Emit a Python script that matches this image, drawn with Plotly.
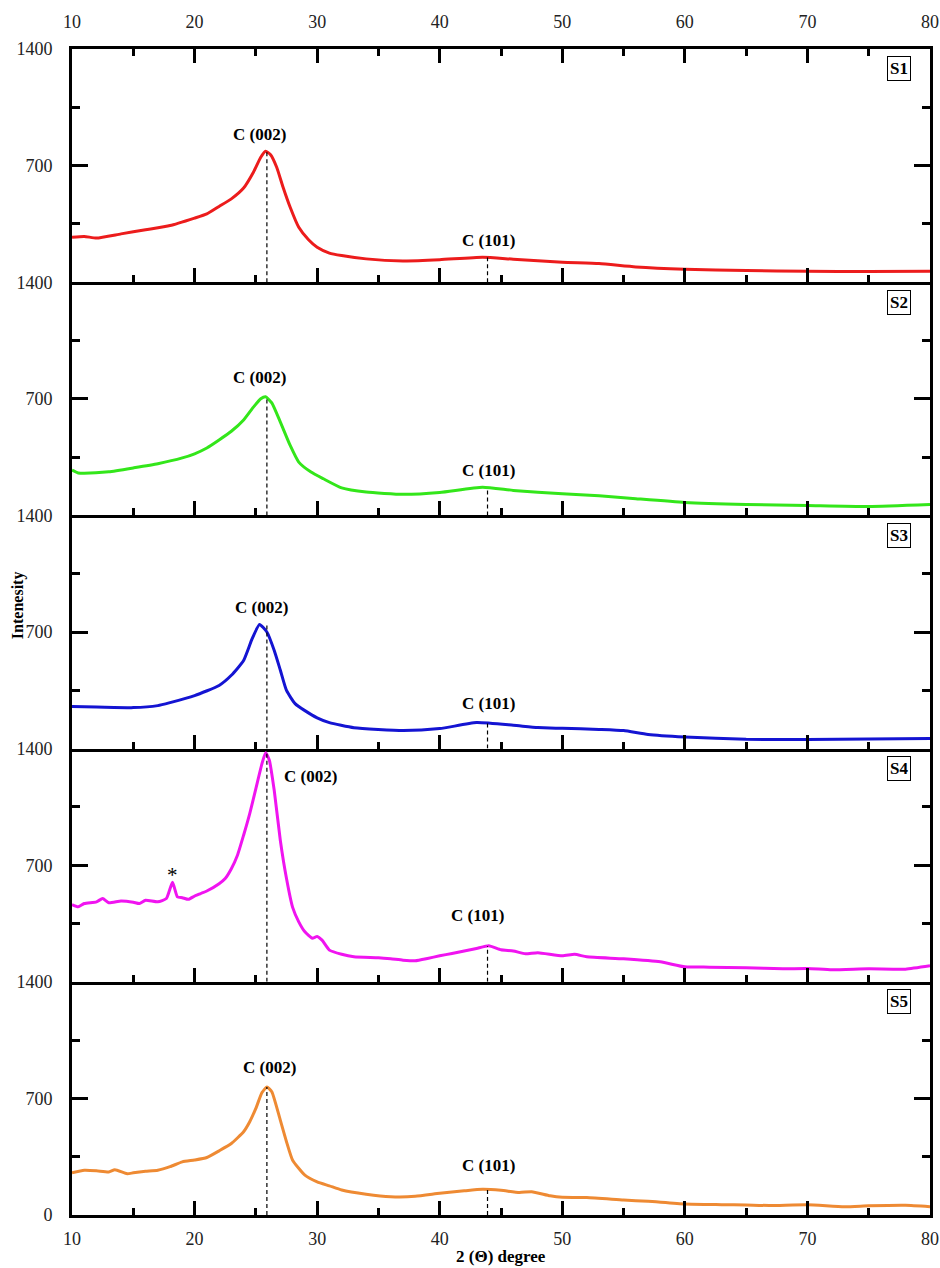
import numpy as np
import plotly.graph_objects as go
from plotly.subplots import make_subplots

# ---------------- data ----------------
samples = ["S1", "S2", "S3", "S4", "S5"]
colors = ["#ec1c1c", "#33e61a", "#1414d2", "#f014f0", "#ee8a33"]

angle_s1 = [10, 11, 12, 14, 16, 18, 20, 21, 22, 23, 24, 24.8, 25.4, 25.8, 26.2, 26.7, 27.2, 27.8,
            28.5, 29.3, 30, 31, 32, 34, 37, 40, 43.5, 46, 50, 53, 56, 60, 65, 70, 75, 80]
int_s1 = [270, 275, 265, 290, 315, 340, 385, 410, 455, 500, 565, 660, 750, 786, 765, 690, 575, 450,
          330, 255, 210, 175, 160, 140, 128, 135, 150, 138, 120, 112, 92, 78, 70, 66, 64, 66]

angle_s2 = [10, 10.5, 11, 13, 15, 17, 19, 20, 21, 22, 23, 24, 24.8, 25.4, 25.8, 26.3, 27, 27.8,
            28.5, 29.5, 30.5, 32, 34, 37, 40, 43.5, 46, 50, 53, 56, 60, 65, 70, 75, 80]
int_s2 = [272, 255, 253, 262, 285, 310, 345, 370, 405, 453, 505, 573, 650, 700, 712, 675, 560, 420,
          320, 260, 220, 165, 140, 127, 138, 169, 150, 130, 118, 100, 78, 66, 60, 54, 66]

angle_s3 = [10, 12, 15, 17, 18, 20, 22, 23, 24, 24.7, 25.3, 25.9, 26.5, 27, 27.5, 28.2, 29, 30,
            31, 33, 37, 40, 43, 46, 48, 50, 53, 55, 57, 60, 65, 70, 75, 80]
int_s3 = [252, 250, 246, 258, 276, 318, 379, 440, 529, 660, 745, 700, 589, 470, 349, 270, 228, 185,
          156, 125, 108, 120, 156, 140, 126, 122, 115, 108, 85, 70, 56, 54, 58, 60]

angle_s4 = [10, 10.5, 11, 12, 12.5, 13, 14, 15, 15.5, 16, 17, 17.7, 18.2, 18.6, 19, 19.5, 20, 20.5,
            21, 22, 22.5, 23, 23.5, 24, 24.5, 25, 25.5, 25.8, 26.1, 26.5, 27, 27.5, 28, 28.5, 29,
            29.6, 30, 30.4, 31, 32, 33, 35, 36, 37, 38, 39, 40, 41, 42, 43, 44, 45, 46, 47, 48,
            50, 51, 52, 55, 58, 60, 62, 65, 68, 70, 72, 75, 78, 80]
int_s4 = [463, 450, 470, 480, 500, 475, 485, 478, 470, 490, 480, 500, 597, 510, 505, 495, 515, 530,
          545, 589, 620, 679, 760, 880, 1010, 1160, 1310, 1375, 1330, 1148, 847, 620, 447, 360, 300,
          262, 272, 250, 190, 165, 150, 144, 138, 130, 126, 140, 156, 170, 185, 200, 216, 192, 185,
          168, 175, 156, 165, 150, 138, 120, 90, 88, 84, 78, 80, 72, 78, 76, 96]

angle_s5 = [10, 11, 12, 13, 13.5, 14.5, 15, 16, 17, 18, 19, 20, 21, 22, 23, 24, 24.5, 25, 25.5,
            25.9, 26.3, 27, 27.5, 28, 29, 30, 31, 32, 34, 36, 38, 40, 42, 43.5, 45, 46.5, 47.5,
            49, 50, 52, 55, 57, 60, 63, 65, 67, 70, 73, 75, 78, 80]
int_s5 = [253, 268, 265, 258, 272, 248, 253, 262, 269, 290, 319, 330, 345, 385, 429, 500, 560, 640,
          735, 768, 740, 568, 440, 329, 239, 199, 175, 150, 125, 110, 112, 130, 145, 154, 148, 135,
          140, 115, 106, 105, 90, 82, 66, 62, 60, 57, 62, 50, 55, 58, 50]

angles = [angle_s1, angle_s2, angle_s3, angle_s4, angle_s5]
intensities = [int_s1, int_s2, int_s3, int_s4, int_s5]

peak_002 = 25.9
peak_101 = 43.9
# label positions (x, y) per panel
lab002_x = [25.3, 25.3, 25.5, 27.1, 26.1]
lab002_y = [886, 827, 847, 1232, 886]
lab002_anchor = ["center", "center", "center", "left", "center"]
lab101_x = [44.0, 44.0, 44.0, 43.1, 44.0]
lab101_y = [253, 267, 270, 397, 299]

x_ticks = [10, 20, 30, 40, 50, 60, 70, 80]
x_minor = [15, 25, 35, 45, 55, 65, 75]
y_ticks = [0, 700, 1400]
y_minor = [350, 1050]

FONT = "Liberation Serif"

fig = make_subplots(rows=5, cols=1, shared_xaxes=True, vertical_spacing=0)

for i in range(5):
    fig.add_trace(go.Scatter(x=angles[i], y=intensities[i], mode="lines",
                             line=dict(color=colors[i], width=3, shape="spline", smoothing=0.5),
                             showlegend=False, hoverinfo="skip"), row=i + 1, col=1)

annotations = []
shapes = []
for i in range(5):
    r = i + 1
    xr = "x" if r == 1 else f"x{r}"
    yr = "y" if r == 1 else f"y{r}"
    ytext = ["0" if r == 5 else "", "700", "1400"]
    fig.update_yaxes(row=r, col=1, range=[0, 1400], tickmode="array", tickvals=y_ticks, ticktext=ytext,
                     ticks="inside", ticklen=16, tickwidth=3, tickcolor="black",
                     showline=True, linewidth=3, linecolor="black", mirror="ticks",
                     showgrid=False, zeroline=False, ticklabelstandoff=13, automargin=False,
                     tickfont=dict(family=FONT, size=18, color="#222"),
                     minor=dict(tickmode="array", tickvals=y_minor, ticks="inside", ticklen=8,
                                tickwidth=3, tickcolor="black", showgrid=False))
    xkw = dict(range=[10, 80], tickmode="array", tickvals=x_ticks,
               ticks="inside", ticklen=14, tickwidth=3, tickcolor="black",
               showline=True, linewidth=3, linecolor="black",
               showgrid=False, zeroline=False, automargin=False,
               tickfont=dict(family=FONT, size=18, color="#222"),
               minor=dict(tickmode="array", tickvals=x_minor, ticks="inside", ticklen=7,
                          tickwidth=3, tickcolor="black", showgrid=False))
    if r == 1:
        xkw.update(side="top", mirror="ticks", showticklabels=True, ticklabelstandoff=11)
    elif r == 5:
        xkw.update(showticklabels=True, mirror=False, ticklabelstandoff=5)
    else:
        xkw.update(showticklabels=False, mirror=False)
    fig.update_xaxes(row=r, col=1, **xkw)

    xs = np.array(angles[i], dtype=float)
    ys = np.array(intensities[i], dtype=float)
    top002 = ys.max()
    top101 = float(np.interp(peak_101, xs, ys))
    shapes.append(dict(type="line", xref=xr, yref=yr, x0=peak_002, x1=peak_002, y0=0, y1=top002,
                       line=dict(color="black", width=1.2, dash="4px,3px")))
    shapes.append(dict(type="line", xref=xr, yref=yr, x0=peak_101, x1=peak_101, y0=0, y1=top101,
                       line=dict(color="black", width=1.2, dash="4px,3px")))

    annotations.append(dict(x=lab002_x[i], y=lab002_y[i], xref=xr, yref=yr, text="<b>C (002)</b>",
                            showarrow=False, xanchor=lab002_anchor[i], yanchor="middle",
                            font=dict(family=FONT, size=17, color="black")))
    annotations.append(dict(x=lab101_x[i], y=lab101_y[i], xref=xr, yref=yr, text="<b>C (101)</b>",
                            showarrow=False, xanchor="center", yanchor="middle",
                            font=dict(family=FONT, size=17, color="black")))
    annotations.append(dict(x=0.964, y=1280, xref="paper", yref=yr, text=f"<b>{samples[i]}</b>",
                            showarrow=False, xanchor="center", yanchor="middle",
                            bordercolor="black", borderwidth=1, borderpad=2, bgcolor="white",
                            font=dict(family=FONT, size=17, color="black")))

annotations.append(dict(x=18.2, y=640, xref="x4", yref="y4", text="*", showarrow=False,
                        font=dict(family=FONT, size=21, color="black")))
annotations.append(dict(x=0.5, y=-0.036, xref="paper", yref="paper", text="<b>2 (\u0398) degree</b>",
                        showarrow=False, xanchor="center", yanchor="middle",
                        font=dict(family=FONT, size=17, color="black")))
annotations.append(dict(x=-0.063, y=0.523, xref="paper", yref="paper", text="<b>Intenesity</b>",
                        showarrow=False, textangle=-90, xanchor="center", yanchor="middle",
                        font=dict(family=FONT, size=16, color="black")))

fig.update_layout(width=940, height=1268, margin=dict(l=72, r=10, t=49, b=53, autoexpand=False),
                  paper_bgcolor="white", plot_bgcolor="white",
                  annotations=annotations, shapes=shapes, showlegend=False)

# remove the default page margin and scrollbars so the figure fills the window exactly
fig.write_html("out.html", config={"displayModeBar": False},
               post_script="document.body.style.margin='0px';document.body.style.overflow='hidden';")
